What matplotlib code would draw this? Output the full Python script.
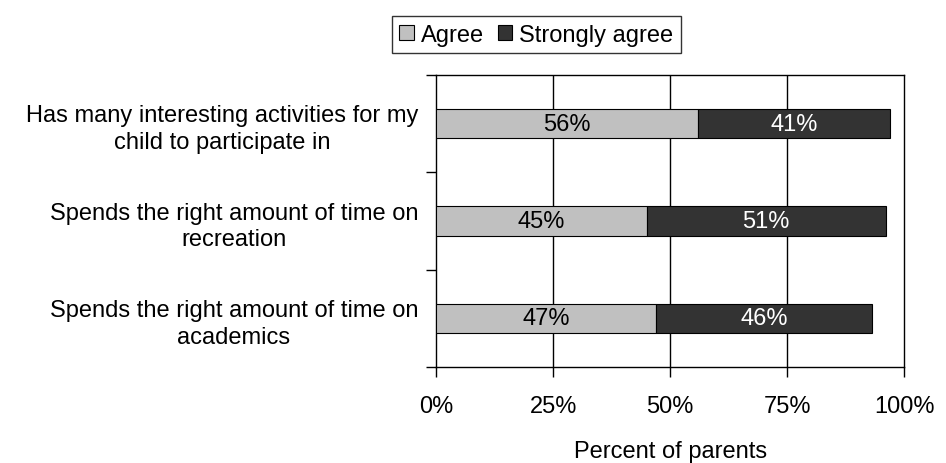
import matplotlib
matplotlib.use("Agg")
import matplotlib.pyplot as plt
import numpy as np

plt.rcParams['font.family'] = ['Liberation Sans', 'DejaVu Sans']

categories = [
    "Has many interesting activities for my\nchild to participate in",
    "Spends the right amount of time on\nrecreation",
    "Spends the right amount of time on\nacademics",
]
agree = [56, 45, 47]
strongly_agree = [41, 51, 46]
xticks = [0, 25, 50, 75, 100]
xtick_labels = ["0%", "25%", "50%", "75%", "100%"]

light = "#C0C0C0"
dark = "#333333"
fs = 17

fig = plt.figure(figsize=(9.46, 4.64), dpi=100)
ax = fig.add_axes([0.461, 0.207, 0.495, 0.629])

y = np.arange(len(categories))
h = 0.3
b1 = ax.barh(y, agree, height=h, color=light, edgecolor="black", linewidth=0.8,
             label="Agree", zorder=3)
b2 = ax.barh(y, strongly_agree, left=agree, height=h, color=dark, edgecolor="black",
             linewidth=0.8, label="Strongly agree", zorder=3)

for yi, a, s in zip(y, agree, strongly_agree):
    ax.text(a / 2, yi, f"{a}%", ha="center", va="center", fontsize=fs,
            color="black", zorder=4)
    ax.text(a + s / 2, yi, f"{s}%", ha="center", va="center", fontsize=fs,
            color="white", zorder=4)

ax.set_xlim(0, 100)
ax.set_ylim(2.5, -0.5)
ax.set_xticks(xticks)
ax.set_xticklabels(xtick_labels, fontsize=fs)
ax.tick_params(axis="x", length=7, width=1, pad=13, direction="out")

ax.set_yticks(y)
ax.set_yticklabels(categories, fontsize=fs, multialignment="center",
                   linespacing=1.28)
ax.tick_params(axis="y", which="major", length=0, pad=13)
ax.set_yticks([-0.5, 0.5, 1.5, 2.5], minor=True)
ax.tick_params(axis="y", which="minor", length=7, width=1, direction="out")

for xv in xticks[1:-1]:
    ax.axvline(xv, color="black", linewidth=1, zorder=1)

for sp in ax.spines.values():
    sp.set_linewidth(1)
    sp.set_color("black")

ax.set_xlabel("Percent of parents", fontsize=fs, labelpad=17)

leg = fig.legend(handles=[b1, b2], labels=["Agree", "Strongly agree"],
                 loc="upper center", bbox_to_anchor=(0.567, 0.963), ncol=2,
                 fontsize=fs, frameon=True, fancybox=False, edgecolor="black",
                 handlelength=0.6, handleheight=0.6, handletextpad=0.3,
                 columnspacing=0.6, borderpad=0.32, borderaxespad=0)
leg.get_frame().set_linewidth(1)

fig.savefig("out.png", dpi=100)
